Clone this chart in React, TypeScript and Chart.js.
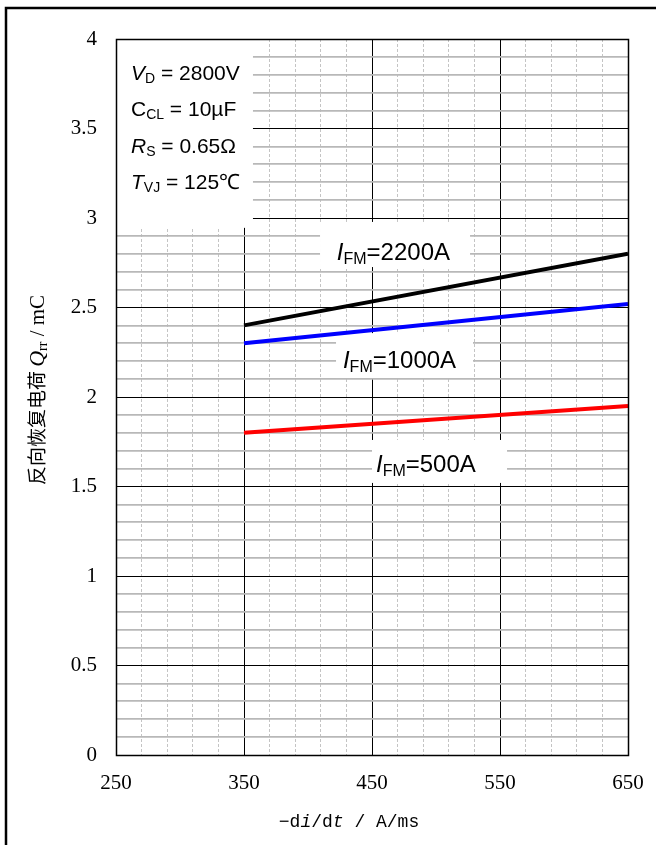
import React, { useEffect, useRef } from 'react';
import { Chart, registerables } from 'chart.js';

Chart.register(...registerables);

// ---- data ----
const xValues = [350, 650];
const qrr2200 = [2.4, 2.8];
const qrr1000 = [2.3, 2.52];
const qrr500 = [1.8, 1.95];
const seriesNames = ['2200A', '1000A', '500A'];
const seriesColors = ['#000000', '#0000ff', '#ff0000'];
const xMin = 250;
const xMax = 650;
const yMin = 0;
const yMax = 4;
const xMajorStep = 100;
const xMinorStep = 20;
const yMajorStep = 0.5;
const yMinorStep = 0.1;

const SANS = '"Liberation Sans", Arial, sans-serif';
const SERIF = '"Liberation Serif", "Times New Roman", serif';
const MONO = '"Liberation Mono", "Courier New", monospace';
const CJK = '"Noto Sans CJK SC", sans-serif';

type Run = { t: string; size: number; family: string; italic?: boolean; dy?: number };

function drawRuns(ctx: CanvasRenderingContext2D, runs: Run[], x: number, y: number, doDraw = true): number {
  let cx = x;
  for (const r of runs) {
    ctx.font = `${r.italic ? 'italic ' : ''}${r.size}px ${r.family}`;
    if (doDraw) ctx.fillText(r.t, cx, y + (r.dy || 0));
    cx += ctx.measureText(r.t).width;
  }
  return cx - x;
}

const isMajorX = (v: number) => Math.abs(((v - xMin) / xMajorStep) - Math.round((v - xMin) / xMajorStep)) < 1e-6;
const isMajorY = (v: number) => Math.abs(v / yMajorStep - Math.round(v / yMajorStep)) < 1e-6;

// annotation geometry in data units
const infoBox = { x1: 250, x2: 357, y1: 2.945, y2: 4 };
const labelBoxes = [
  { x1: 409.4, x2: 526.6, y1: 2.726, y2: 2.978 },
  { x1: 421.9, x2: 528.9, y1: 2.106, y2: 2.357 },
  { x1: 450, x2: 555.5, y1: 1.52, y2: 1.76 },
];
const labelAnchors = [
  { x: 422.5, y: 2.765 },
  { x: 427.3, y: 2.162 },
  { x: 453.1, y: 1.581 },
];
const infoAnchorX = 261.7;
const infoAnchorsY = [3.771, 3.57, 3.363, 3.162];

const annotationPlugin = {
  id: 'annotations',
  beforeDatasetsDraw(chart: any) {
    const ctx: CanvasRenderingContext2D = chart.ctx;
    const xs = chart.scales.x;
    const ys = chart.scales.y;
    ctx.save();
    ctx.fillStyle = '#ffffff';
    const boxes = [infoBox, ...labelBoxes];
    for (const b of boxes) {
      const px1 = xs.getPixelForValue(b.x1);
      const px2 = xs.getPixelForValue(b.x2);
      const py1 = ys.getPixelForValue(b.y2);
      const py2 = ys.getPixelForValue(b.y1);
      ctx.fillRect(px1, py1, px2 - px1, py2 - py1);
    }
    ctx.fillStyle = '#000';
    ctx.textBaseline = 'alphabetic';
    ctx.textAlign = 'left';
    const fs = 21;
    const ss = 14;
    const infoLines: Run[][] = [
      [{ t: 'V', size: fs, family: SANS, italic: true }, { t: 'D', size: ss, family: SANS, dy: 3 }, { t: ' = 2800V', size: fs, family: SANS }],
      [{ t: 'C', size: fs, family: SANS }, { t: 'CL', size: ss, family: SANS, dy: 3 }, { t: ' = 10\u00b5F', size: fs, family: SANS }],
      [{ t: 'R', size: fs, family: SANS, italic: true }, { t: 'S', size: ss, family: SANS, dy: 3 }, { t: ' = 0.65\u03a9', size: fs, family: SANS }],
      [{ t: 'T', size: fs, family: SANS, italic: true }, { t: 'VJ', size: ss, family: SANS, dy: 3 }, { t: ' = 125\u2103', size: fs, family: SANS }],
    ];
    infoLines.forEach((runs, i) => {
      drawRuns(ctx, runs, xs.getPixelForValue(infoAnchorX), ys.getPixelForValue(infoAnchorsY[i]));
    });
    const ls = 24;
    const lss = 16;
    seriesNames.forEach((name, i) => {
      const runs: Run[] = [
        { t: 'I', size: ls, family: SANS, italic: true },
        { t: 'FM', size: lss, family: SANS, dy: 4 },
        { t: '=' + name, size: ls, family: SANS },
      ];
      drawRuns(ctx, runs, xs.getPixelForValue(labelAnchors[i].x), ys.getPixelForValue(labelAnchors[i].y));
    });
    ctx.restore();
  },
  afterDatasetsDraw(chart: any) {
    const ctx: CanvasRenderingContext2D = chart.ctx;
    const a = chart.chartArea;
    ctx.save();
    ctx.strokeStyle = '#000';
    ctx.lineWidth = 1.5;
    ctx.strokeRect(Math.round(a.left) + 0.5, Math.round(a.top) + 0.5, a.right - a.left, a.bottom - a.top);
    ctx.restore();
  },
  afterDraw(chart: any) {
    const ctx: CanvasRenderingContext2D = chart.ctx;
    ctx.save();
    // outer frame
    ctx.strokeStyle = '#000';
    ctx.lineWidth = 2.5;
    ctx.strokeRect(6, 8, 720, 900);
    ctx.fillStyle = '#000';
    ctx.textAlign = 'left';
    ctx.textBaseline = 'alphabetic';
    // x title
    const xRuns: Run[] = [
      { t: '\u2212d', size: 18, family: MONO },
      { t: 'i', size: 18, family: MONO, italic: true },
      { t: '/d', size: 18, family: MONO },
      { t: 't', size: 18, family: MONO, italic: true },
      { t: ' / A/ms', size: 18, family: MONO },
    ];
    const xw = drawRuns(ctx, xRuns, 0, 0, false);
    const xc = 349;
    drawRuns(ctx, xRuns, xc - xw / 2, 827);
    // y title
    const yRuns: Run[] = [
      { t: '\u53cd\u5411\u6062\u590d\u7535\u8377 ', size: 19, family: CJK },
      { t: 'Q', size: 22, family: SERIF, italic: true },
      { t: 'rr', size: 14, family: SERIF, dy: 3 },
      { t: ' / mC', size: 21, family: SERIF },
    ];
    const yw = drawRuns(ctx, yRuns, 0, 0, false);
    ctx.translate(37, 390);
    ctx.rotate(-Math.PI / 2);
    drawRuns(ctx, yRuns, -yw / 2, 7);
    ctx.restore();
  },
};

export default function App() {
  const canvasRef = useRef<HTMLCanvasElement | null>(null);

  useEffect(() => {
    const canvas = canvasRef.current;
    if (!canvas) return;
    const toPts = (ys: number[]) => xValues.map((x, i) => ({ x, y: ys[i] }));
    const chart = new Chart(canvas, {
      type: 'line',
      data: {
        datasets: [
          { label: seriesNames[0], data: toPts(qrr2200), borderColor: seriesColors[0], borderWidth: 4, pointRadius: 0, fill: false },
          { label: seriesNames[1], data: toPts(qrr1000), borderColor: seriesColors[1], borderWidth: 4, pointRadius: 0, fill: false },
          { label: seriesNames[2], data: toPts(qrr500), borderColor: seriesColors[2], borderWidth: 4, pointRadius: 0, fill: false },
        ],
      },
      options: {
        animation: false,
        responsive: false,
        maintainAspectRatio: false,
        devicePixelRatio: 1,
        layout: { padding: { left: 0, right: 28, top: 39, bottom: 0 } },
        plugins: { legend: { display: false }, tooltip: { enabled: false } },
        scales: {
          x: {
            type: 'linear',
            min: xMin,
            max: xMax,
            afterFit: (s: any) => { s.height = 90; s.paddingLeft = 0; s.paddingRight = 0; },
            ticks: {
              stepSize: xMinorStep,
              maxTicksLimit: 1000,
              autoSkip: false,
              maxRotation: 0,
              padding: 16,
              color: '#000',
              font: { family: SERIF, size: 21 },
              callback: (v: any) => (isMajorX(Number(v)) ? String(Math.round(Number(v))) : ''),
            },
            grid: {
              drawTicks: false,
              color: (c: any) => (c.tick && isMajorX(c.tick.value) ? '#000000' : '#c4c4c4'),
              lineWidth: (c: any) => 1,
            },
            border: {
              display: true,
              color: '#000',
              width: 1,
              dash: (c: any) => (c.tick && !isMajorX(c.tick.value) ? [3, 2] : []),
            },
          },
          y: {
            type: 'linear',
            min: yMin,
            max: yMax,
            afterFit: (s: any) => { s.width = 116; s.paddingTop = 0; s.paddingBottom = 0; },
            ticks: {
              stepSize: yMinorStep,
              maxTicksLimit: 1000,
              autoSkip: false,
              padding: 19,
              color: '#000',
              font: { family: SERIF, size: 21 },
              callback: (v: any) => (isMajorY(Number(v)) ? String(Math.round(Number(v) * 10) / 10) : ''),
            },
            grid: {
              drawTicks: false,
              color: (c: any) => (c.tick && isMajorY(c.tick.value) ? '#000000' : '#b8b8b8'),
              lineWidth: (c: any) => (c.tick && isMajorY(c.tick.value) ? 1 : 1.8),
            },
            border: { display: true, color: '#000', width: 1 },
          },
        },
      },
      plugins: [annotationPlugin],
    } as any);
    return () => chart.destroy();
  }, []);

  return (
    <div style={{ position: 'absolute', left: 0, top: 0, width: 656, height: 845, background: '#fff' }}>
      <canvas ref={canvasRef} width={656} height={845} style={{ display: 'block', width: 656, height: 845 }} />
    </div>
  );
}
